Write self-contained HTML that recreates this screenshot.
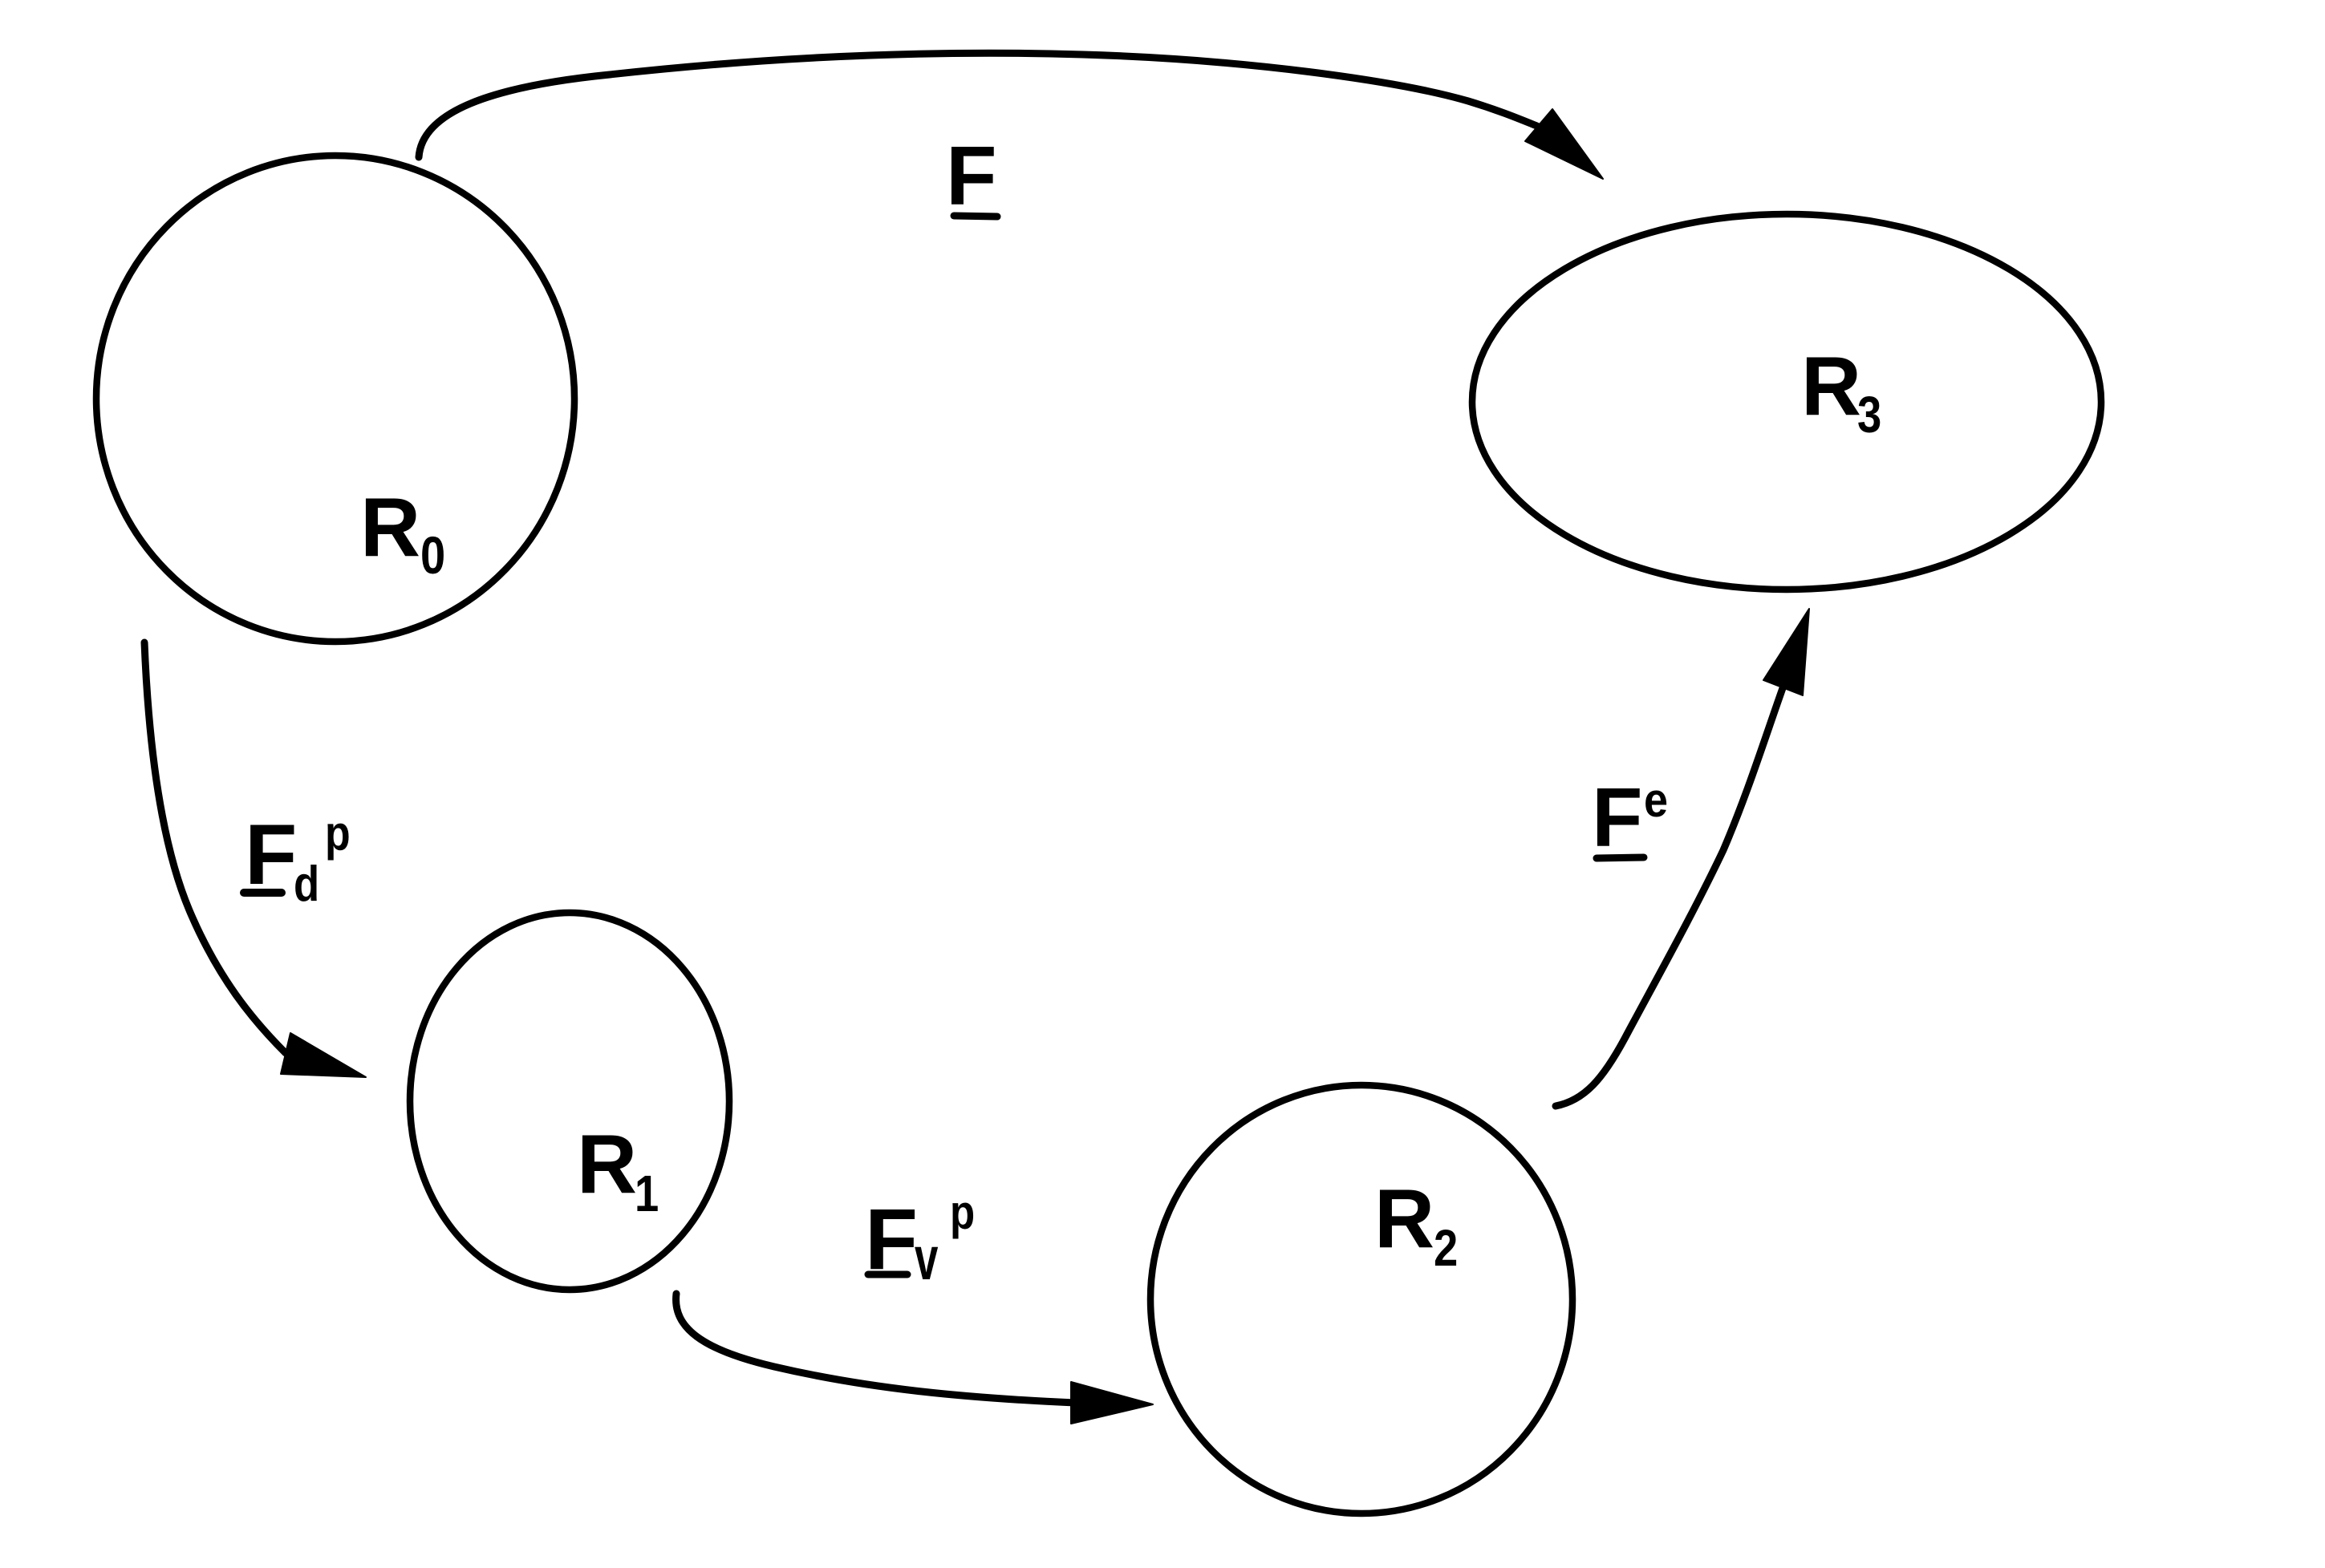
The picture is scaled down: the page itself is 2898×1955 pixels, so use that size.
<!DOCTYPE html>
<html>
<head>
<meta charset="utf-8">
<style>
  html, body { margin: 0; padding: 0; background: #ffffff; }
  body { width: 2898px; height: 1955px; overflow: hidden; }
  svg { display: block; }
  text { font-family: "Liberation Sans", Arial, sans-serif; font-weight: bold; fill: #000; }
</style>
</head>
<body>
<svg width="2898" height="1955" viewBox="0 0 2898 1955" xmlns="http://www.w3.org/2000/svg">
  <rect x="0" y="0" width="2898" height="1955" fill="#ffffff"/>

  <!-- Ellipses -->
  <g fill="none" stroke="#000" stroke-width="8.5">
    <ellipse cx="418" cy="497" rx="298" ry="303"/>
    <ellipse cx="710" cy="1373" rx="199" ry="235"/>
    <ellipse cx="1697" cy="1620" rx="263" ry="267"/>
    <ellipse cx="2227" cy="501" rx="392" ry="234"/>
  </g>

  <!-- Connectors -->
  <g fill="none" stroke="#000" stroke-width="9" stroke-linecap="round" stroke-linejoin="round">
    <!-- F: R0 -> R3 -->
    <path d="M522,196 C526,140 610,108 760,93 C950,72 1150,62 1350,68 C1550,74 1740,100 1830,126 C1870,138 1898,150 1918,158"/>
    <!-- Fd^p: R0 -> R1 -->
    <path d="M180,801 C184,900 196,1040 236,1135 C272,1220 315,1272 356,1313"/>
    <!-- Fv^p: R1 -> R2 -->
    <path d="M843,1613 C838,1655 875,1683 965,1704 C1085,1732 1205,1743 1340,1749"/>
    <!-- Fe: R2 -> R3 -->
    <path d="M1939,1379 C1975,1372 1998,1345 2025,1295 C2065,1220 2110,1140 2148,1060 C2178,990 2200,920 2222,858"/>
  </g>

  <!-- Arrowheads -->
  <g fill="#000" stroke="#000" stroke-width="2" stroke-linejoin="round">
    <polygon points="1998,223 1935,136 1901,176"/>
    <polygon points="456,1343 362,1288 350,1339"/>
    <polygon points="1437,1751 1335,1723 1335,1775"/>
    <polygon points="2255,759 2198,848 2247,867"/>
  </g>

  <!-- Node labels -->
  <text x="449" y="693" font-size="104">R</text>
  <text transform="translate(524,715) scale(0.85,1)" font-size="66">0</text>

  <text x="719" y="1487" font-size="104">R</text>
  <text transform="translate(791,1510) scale(0.85,1)" font-size="64">1</text>

  <text x="1713" y="1555" font-size="104">R</text>
  <text transform="translate(1787,1578) scale(0.85,1)" font-size="64">2</text>

  <text x="2245" y="517" font-size="104">R</text>
  <text transform="translate(2315,539) scale(0.85,1)" font-size="64">3</text>

  <!-- Edge labels -->
  <!-- F -->
  <text x="1179" y="255" font-size="104">F</text>
  <line x1="1189" y1="269" x2="1243" y2="270" stroke="#000" stroke-width="9" stroke-linecap="round"/>

  <!-- Fd^p -->
  <text x="305" y="1102" font-size="107">F</text>
  <line x1="304" y1="1113" x2="351" y2="1113" stroke="#000" stroke-width="10" stroke-linecap="round"/>
  <text transform="translate(366,1123) scale(0.85,1)" font-size="62">d</text>
  <text transform="translate(405,1060) scale(0.85,1)" font-size="61">p</text>

  <!-- Fv^p -->
  <text x="1078" y="1582" font-size="108">F</text>
  <line x1="1082" y1="1589" x2="1131" y2="1589" stroke="#000" stroke-width="9" stroke-linecap="round"/>
  <text transform="translate(1140,1595) scale(0.8,1.15)" font-size="66">v</text>
  <text transform="translate(1184,1532) scale(0.85,1)" font-size="60">p</text>

  <!-- Fe -->
  <text x="1984" y="1055" font-size="104">F</text>
  <line x1="1990" y1="1070" x2="2049" y2="1069" stroke="#000" stroke-width="9" stroke-linecap="round"/>
  <text transform="translate(2049,1018) scale(0.9,1)" font-size="60">e</text>
</svg>
</body>
</html>
